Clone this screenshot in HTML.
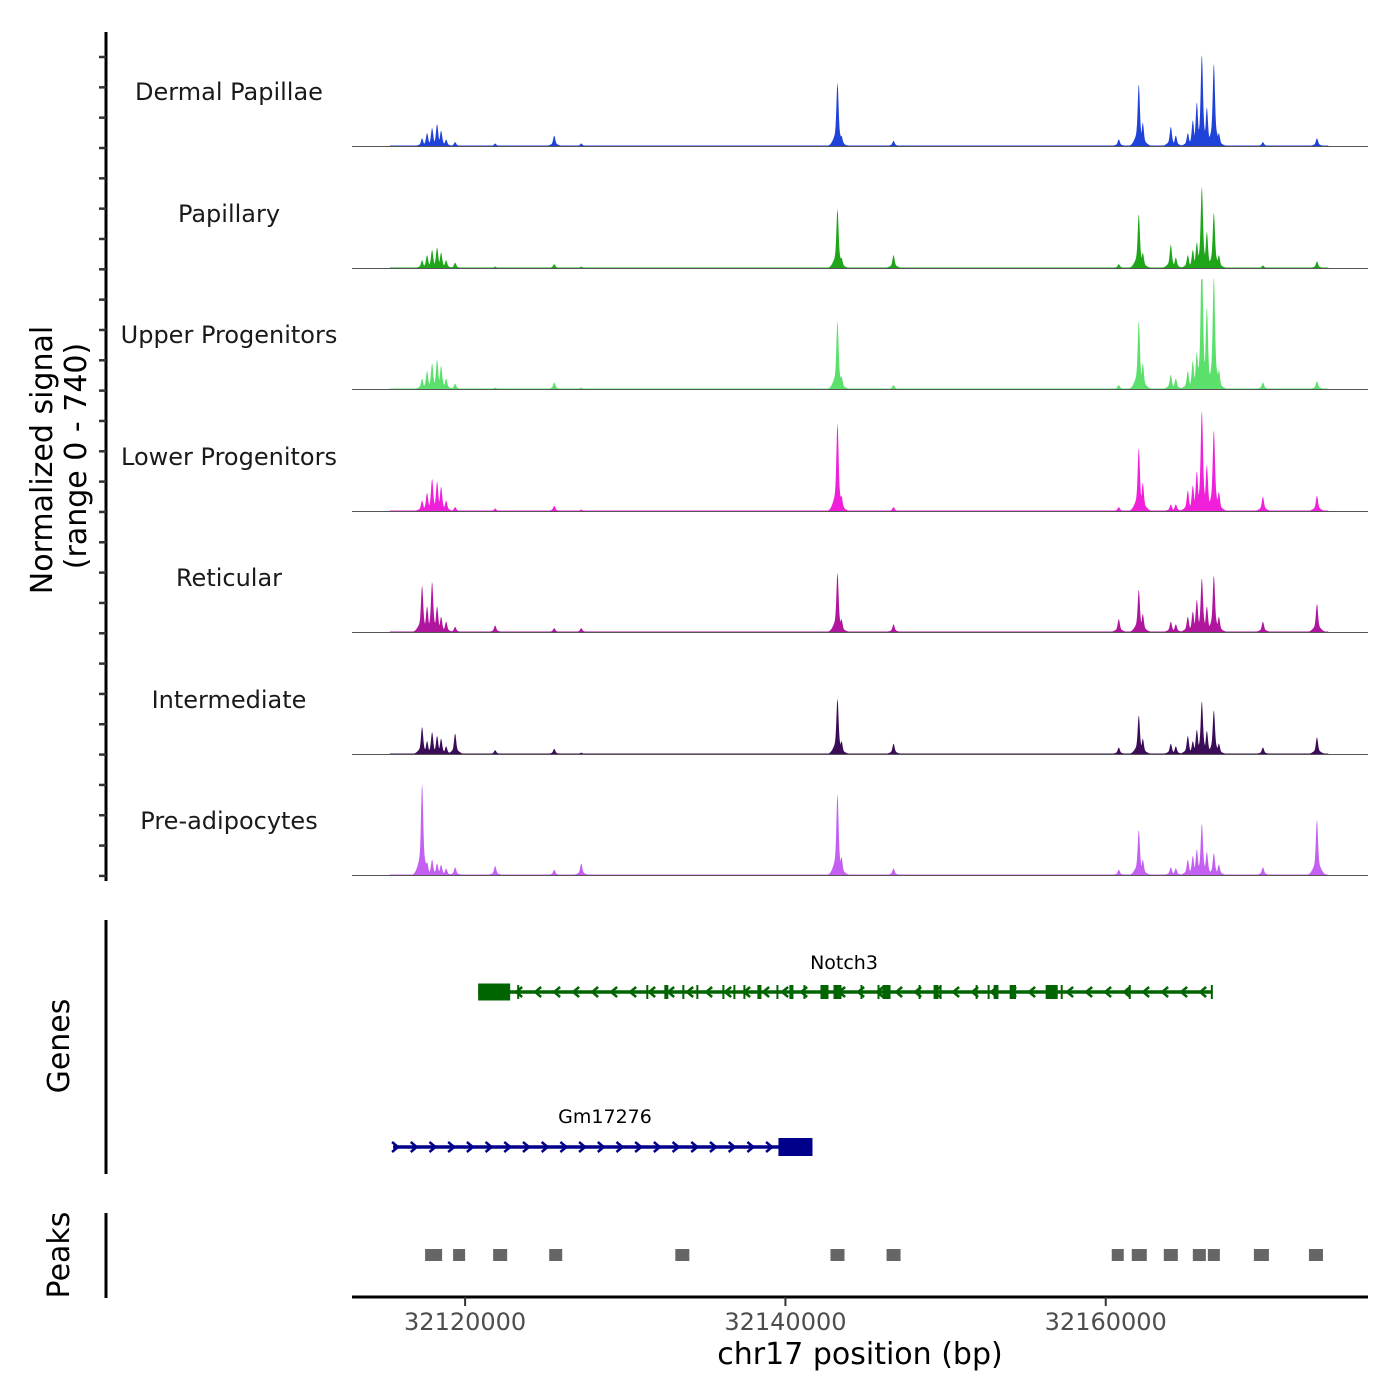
<!DOCTYPE html>
<html><head><meta charset="utf-8"><style>
html,body{margin:0;padding:0;background:#fff;}
svg{display:block;font-family:"DejaVu Sans","Liberation Sans",sans-serif;}
</style></head><body>
<svg id="chart" width="1400" height="1400" viewBox="0 0 1400 1400" xmlns="http://www.w3.org/2000/svg">
<rect x="0" y="0" width="1400" height="1400" fill="#fff"/>
<g id="tracks"></g>
<g id="genes"></g>
<g id="peaks"></g>
<g id="axes"></g>
<text transform="translate(52,460) rotate(-90)" text-anchor="middle" font-size="30" fill="#000">Normalized signal</text>
<text transform="translate(86,456) rotate(-90)" text-anchor="middle" font-size="30" fill="#000">(range 0 - 740)</text>
<text transform="translate(69,1046) rotate(-90)" text-anchor="middle" font-size="30" fill="#000">Genes</text>
<text transform="translate(69,1255) rotate(-90)" text-anchor="middle" font-size="30" fill="#000">Peaks</text>
<text x="860" y="1364" text-anchor="middle" font-size="30" fill="#000">chr17 position (bp)</text>
</svg>
<script>
const trackNames = ["Dermal Papillae","Papillary","Upper Progenitors","Lower Progenitors","Reticular","Intermediate","Pre-adipocytes"];
const trackColors = ["#1f43d8","#1ea51a","#5ce06c","#ef1fda","#b0159e","#3b0c58","#c360f2"];
const peakCenters = [32117313,32117625,32117938,32118250,32118500,32118813,32119375,32121875,32125563,32127250,32143250,32143500,32146750,32160813,32162063,32162313,32164063,32164375,32165125,32165438,32165688,32166000,32166313,32166750,32167063,32169813,32173188];
const dermalValues = [40,67,94,114,80,34,20,13,54,13,328,54,27,34,322,121,100,54,67,134,228,476,201,429,67,20,40];
const papillaryValues = [40,67,94,107,80,40,27,7,20,7,308,54,67,20,281,80,121,54,67,94,134,422,188,288,67,13,34];
const upperValues = [54,94,134,154,121,54,27,7,34,7,355,67,20,20,355,134,74,54,94,147,194,730,429,596,100,34,40];
const lowerValues = [54,94,168,154,127,54,20,13,27,7,456,80,20,20,328,147,34,34,107,134,208,523,241,422,100,74,80];
const reticularValues = [241,134,261,134,80,54,27,34,20,20,308,67,40,67,221,94,54,40,80,107,168,281,134,295,80,54,147];
const intermediateValues = [141,67,114,94,80,40,107,20,27,7,288,67,54,34,201,80,54,40,94,67,127,275,121,228,54,34,87];
const preadipValues = [476,67,80,60,54,34,40,47,27,60,422,94,34,27,235,80,40,34,80,100,134,268,121,114,54,40,288];
const trackValues = [dermalValues,papillaryValues,upperValues,lowerValues,reticularValues,intermediateValues,preadipValues];
const xTicks = [32120000,32140000,32160000];
const xTickLabels = ["32120000","32140000","32160000"];
const peakStarts = [32117500,32119250,32121750,32125250,32133125,32142813,32146313,32160375,32161625,32163625,32165438,32166375,32169250,32172688];
const peakEnds = [32118563,32120000,32122625,32126063,32134000,32143688,32147188,32161125,32162563,32164500,32166250,32167125,32170188,32173563];
const notch3Exons = [[32120813,32122813],[32123250,32123300],[32131313,32131363],[32132438,32132688],[32133563,32133613],[32134438,32134488],[32136063,32136113],[32136750,32136800],[32137375,32137425],[32138250,32138500],[32139438,32139488],[32140250,32140500],[32141125,32141175],[32142188,32142688],[32143000,32143500],[32144688,32144738],[32145750,32145800],[32146063,32146563],[32148313,32148363],[32149250,32149550],[32149625,32149675],[32151875,32151925],[32152625,32152675],[32153000,32153300],[32154000,32154400],[32156250,32157000],[32157188,32157238],[32161438,32161488],[32166563,32166625]];
const notch3Span = [32120813,32166625];
const gmSpan = [32115500,32141688];
const gmBox = [32139563,32141688];

const NS="http://www.w3.org/2000/svg";
const X0=352,X1=1368,BP0=32112937,BP1=32176375;
function xs(bp){return X0+(bp-BP0)*(X1-X0)/(BP1-BP0);}
const baselines=[146,268,389,511,632,754,875];
const TRACK_H=110, YMAX=740;
function ys(v,b){return b-v*TRACK_H/YMAX;}
function mk(tag,attrs,parent){const e=document.createElementNS(NS,tag);for(const k in attrs)e.setAttribute(k,attrs[k]);parent.appendChild(e);return e;}

const tg=document.getElementById('tracks');
trackNames.forEach((name,i)=>{
  const b=baselines[i];
  const vals=trackValues[i];
  let d=`M${X0},${b}`;
  const xStart=xs(32115300), xEnd=xs(32173900);
  for(let px=X0;px<=X1;px+=0.5){
    let v=0;
    if(px>=xStart&&px<=xEnd) v=3;
    peakCenters.forEach((c,j)=>{
      const dx=px-xs(c);
      const h=vals[j];
      const s=h*Math.exp(-(dx/1.4)*(dx/1.4))+0.3*h*Math.exp(-(dx/5)*(dx/5));
      if(s>v)v=s;
    });
    d+=`L${px},${ys(Math.min(v,YMAX),b).toFixed(2)}`;
  }
  d+=`L${X1},${b}Z`;
  const p=mk('path',{d:d,fill:trackColors[i],stroke:'none'},tg);
  
  
  const l=mk('line',{x1:X0,x2:X1,y1:b+0.5,y2:b+0.5,stroke:'#555','stroke-width':1},tg);
  
  
  const t=mk('text',{x:229,y:b-46,'text-anchor':'middle','font-size':24,fill:'#1a1a1a'},tg);
  t.textContent=name;
  
  
});

const ax=document.getElementById('axes');
mk('line',{x1:106,x2:106,y1:32,y2:881,stroke:'#000','stroke-width':3},ax);
for(let k=0;k<=27;k++){const y=57+k*30.33;mk('line',{x1:99,x2:106,y1:y,y2:y,stroke:'#333','stroke-width':2.5},ax);}
mk('line',{x1:106,x2:106,y1:920,y2:1174,stroke:'#000','stroke-width':3},ax);
mk('line',{x1:106,x2:106,y1:1213,y2:1298,stroke:'#000','stroke-width':3},ax);
mk('line',{x1:X0,x2:X1,y1:1297,y2:1297,stroke:'#000','stroke-width':3},ax);
xTicks.forEach((t,i)=>{
  const x=xs(t);
  mk('line',{x1:x,x2:x,y1:1297,y2:1306,stroke:'#333','stroke-width':2},ax);
  const tx=mk('text',{x:x,y:1330,'text-anchor':'middle','font-size':24,fill:'#4d4d4d'},ax);
  tx.textContent=xTickLabels[i];
  
  
});

const gg=document.getElementById('genes');
const GREEN='#006400', BLUE='#00008b';
const ny=992;
mk('line',{x1:xs(notch3Span[0]),x2:xs(notch3Span[1]),y1:ny,y2:ny,stroke:GREEN,'stroke-width':3.5},gg);
for(let x=xs(notch3Span[0])+40;x<xs(notch3Span[1]);x+=19){
  mk('path',{d:`M${x+4},${ny-5}L${x-2},${ny}L${x+4},${ny+5}`,fill:'none',stroke:GREEN,'stroke-width':2.5},gg);
}
notch3Exons.forEach((e,i)=>{
  const x0=xs(e[0]),x1=Math.max(xs(e[1]),x0+2);
  const h=i===0?17:14;
  const r=mk('rect',{x:x0,y:ny-h/2,width:x1-x0,height:h,fill:GREEN},gg);
  
  
});
const nl=mk('text',{x:844,y:969,'text-anchor':'middle','font-size':19,fill:'#000'},gg);
nl.textContent='Notch3';


const gy=1147;
mk('line',{x1:xs(gmSpan[0]),x2:xs(gmSpan[1]),y1:gy,y2:gy,stroke:BLUE,'stroke-width':3.5},gg);
for(let x=xs(gmSpan[0])+2;x<xs(gmBox[0])-4;x+=18.7){
  mk('path',{d:`M${x-3},${gy-5}L${x+3},${gy}L${x-3},${gy+5}`,fill:'none',stroke:BLUE,'stroke-width':2.5},gg);
}
const gb=mk('rect',{x:xs(gmBox[0]),y:gy-9,width:xs(gmBox[1])-xs(gmBox[0]),height:18,fill:BLUE},gg);


const gl=mk('text',{x:605,y:1123,'text-anchor':'middle','font-size':19,fill:'#000'},gg);
gl.textContent='Gm17276';



const pg=document.getElementById('peaks');
peakStarts.forEach((s,i)=>{
  const r=mk('rect',{x:xs(s),y:1249,width:xs(peakEnds[i])-xs(s),height:12,fill:'#666'},pg);
  
  
});
</script>
</body></html>
